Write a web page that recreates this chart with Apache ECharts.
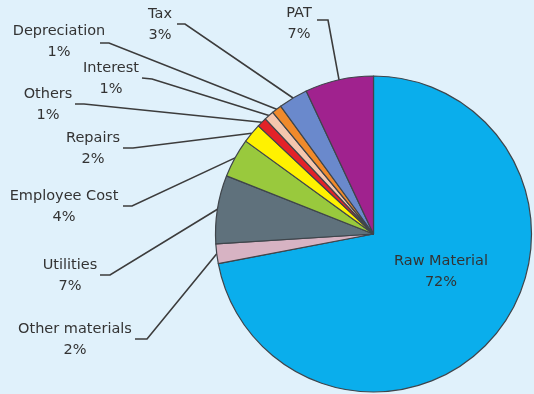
<!DOCTYPE html>
<html>
<head>
<meta charset="utf-8">
<title>Cost Structure</title>
<script src="https://cdn.jsdelivr.net/npm/echarts@6/dist/echarts.min.js"></script>
<style>
  html, body { margin: 0; padding: 0; background: #e0f1fb; }
  #chart { width: 534px; height: 394px; }
</style>
</head>
<body>
<div id="chart"></div>
<script>
// Cost heads and their share of the total (%)
const categories = [
  'Raw Material', 'Other materials', 'Utilities', 'Employee Cost', 'Repairs',
  'Others', 'Interest', 'Depreciation', 'Tax', 'PAT'
];
const shares = [72, 2, 7, 4, 2, 1, 1, 1, 3, 7];

// Slice palette, in the same order as the categories
const palette = [
  '#0aaeec', '#d7b3c3', '#5f717c', '#99c93d', '#fff200',
  '#e32228', '#f5c6ae', '#f08a2b', '#6a89cc', '#a0228e'
];

// Label placement: text centre, then the short tail of each leader line
// (tail end next to the text, and the elbow where it turns toward the slice)
const labelLayoutSpec = [
  { x: 441, y: 272 },
  { x: 75,  y: 340, tail: [135, 339], elbow: [147, 339] },
  { x: 70,  y: 276, tail: [100, 275], elbow: [110, 275] },
  { x: 64,  y: 207, tail: [123, 206], elbow: [132, 206] },
  { x: 93,  y: 149, tail: [123, 148], elbow: [133, 148] },
  { x: 48,  y: 105, tail: [75, 104],  elbow: [84, 104] },
  { x: 111, y: 79,  tail: [142, 78],  elbow: [152, 79] },
  { x: 59,  y: 42,  tail: [100, 43],  elbow: [109, 43] },
  { x: 160, y: 25,  tail: [177, 24],  elbow: [185, 24] },
  { x: 299, y: 24,  tail: [317, 20],  elbow: [328, 20] }
];

const pieData = categories.map((name, i) => ({
  name: name,
  value: shares[i],
  itemStyle: { color: palette[i] },
  labelLine: { show: i !== 0 }
}));

const chart = echarts.init(document.getElementById('chart'), null, { renderer: 'canvas' });

chart.setOption({
  backgroundColor: '#e0f1fb',
  animation: false,
  series: [{
    type: 'pie',
    center: [373.5, 234],
    radius: 158,
    startAngle: 90,
    clockwise: true,
    avoidLabelOverlap: false,
    data: pieData,
    itemStyle: { borderColor: '#3f454b', borderWidth: 1.2 },
    label: {
      show: true,
      position: 'outside',
      formatter: '{b}\n{c}%',
      fontFamily: 'DejaVu Sans',
      fontSize: 14.5,
      lineHeight: 21,
      color: '#333333',
      align: 'center'
    },
    labelLine: {
      show: true,
      lineStyle: { color: '#3c3c3c', width: 1.6 }
    },
    labelLayout: function (params) {
      const spec = labelLayoutSpec[params.dataIndex];
      const out = {
        x: spec.x,
        y: spec.y,
        align: 'center',
        verticalAlign: 'middle'
      };
      if (spec.tail && params.labelLinePoints) {
        const anchor = params.labelLinePoints[0];
        out.labelLinePoints = [anchor, spec.elbow, spec.tail];
      }
      return out;
    }
  }]
});
</script>
</body>
</html>
